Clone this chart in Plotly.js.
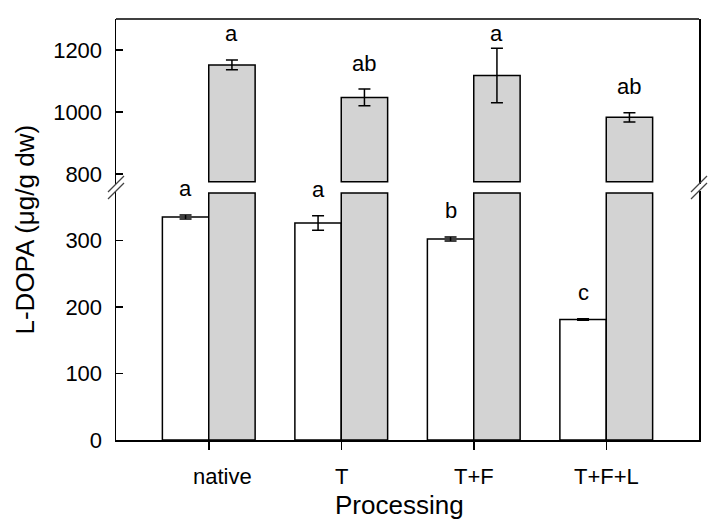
<!DOCTYPE html>
<html>
<head>
<meta charset="utf-8">
<script src="https://cdn.plot.ly/plotly-3.0.1.min.js"></script>
<style>html,body{margin:0;padding:0;background:#fff}#chart{width:723px;height:530px}</style>
</head>
<body>
<div id="chart"></div>
<script>
// ---- data ----
const categories = ['native', 'T', 'T+F', 'T+F+L'];
const whiteVals = [335, 326, 302, 181];
const whiteErr = [3, 11, 3, 1];
const grayVals = [1152, 1047, 1118, 983];
const grayErr = [16, 27, 88, 15];
const whiteLetters = ['a', 'a', 'b', 'c'];
const grayLetters = ['a', 'ab', 'a', 'ab'];
const yTicksLow = [0, 100, 200, 300];
const yTicksHigh = [800, 1000, 1200];

// ---- layout constants ----
const LOW_RANGE = [0, 374];
const HIGH_RANGE = [768, 1300];
const LOW_CUT = 371;   // where gray bars are cut on lower panel
const HIGH_CUT = 775;  // where gray bars resume on upper panel
const BAR_W = 0.35;
const LOW_DOMAIN = [0, 0.5914];
const HIGH_DOMAIN = [0.6081, 1];
const FONT = 'Liberation Sans, Arial, Helvetica, sans-serif';
const whiteLift = [26, 26, 26, 26];
const grayLift = [26, 26, 15, 26];
const labelShift = [0.1, 0, 0, 0];

const idx = categories.map((_, i) => i);
const barLine = {color: '#000', width: 1.5};
const errStyle = {type: 'data', color: '#000', thickness: 1.5, width: 6, visible: true};

const traces = [
  {type: 'bar', x: idx, y: whiteVals, width: BAR_W, offset: -BAR_W,
   xaxis: 'x', yaxis: 'y', marker: {color: '#ffffff', line: barLine},
   error_y: Object.assign({array: whiteErr}, errStyle), hoverinfo: 'skip'},
  {type: 'bar', x: idx, y: grayVals.map(v => Math.min(v, LOW_CUT)), width: BAR_W, offset: 0,
   xaxis: 'x', yaxis: 'y', marker: {color: '#d3d3d3', line: barLine}, hoverinfo: 'skip'},
  {type: 'bar', x: idx, y: grayVals.map(v => v - HIGH_CUT), base: HIGH_CUT, width: BAR_W, offset: 0,
   xaxis: 'x', yaxis: 'y2', marker: {color: '#d3d3d3', line: barLine},
   error_y: Object.assign({array: grayErr}, errStyle), hoverinfo: 'skip'}
];

const annotations = [];
idx.forEach(i => {
  annotations.push({xref: 'x', yref: 'y', x: i - BAR_W / 2, y: whiteVals[i] + whiteErr[i],
    text: whiteLetters[i], showarrow: false, yanchor: 'middle', yshift: whiteLift[i],
    font: {family: FONT, size: 22, color: '#000'}});
  annotations.push({xref: 'x', yref: 'y2', x: i + BAR_W / 2, y: grayVals[i] + grayErr[i],
    text: grayLetters[i], showarrow: false, yanchor: 'middle', yshift: grayLift[i],
    font: {family: FONT, size: 22, color: '#000'}});
  annotations.push({xref: 'x', yref: 'paper', x: i + labelShift[i], y: 0,
    text: categories[i], showarrow: false, yanchor: 'middle', yshift: -36,
    font: {family: FONT, size: 22, color: '#000'}});
});
annotations.push({xref: 'paper', yref: 'paper', x: 0, y: 0.5, xshift: -92, textangle: -90,
  text: 'L-DOPA (μg/g dw)', showarrow: false, xanchor: 'center', yanchor: 'middle',
  font: {family: FONT, size: 26, color: '#000'}});
annotations.push({xref: 'paper', yref: 'paper', x: 0.487, y: 0, yshift: -65,
  text: 'Processing', showarrow: false, xanchor: 'center', yanchor: 'middle',
  font: {family: FONT, size: 26, color: '#000'}});

const slash = (xa, ya) => ({type: 'line', xref: 'paper', yref: 'paper',
  xsizemode: 'pixel', ysizemode: 'pixel', xanchor: xa, yanchor: ya,
  x0: -8, x1: 8, y0: -8, y1: 8, line: {color: '#444', width: 1.2}});

const shapes = [
  {type: 'line', xref: 'paper', yref: 'paper', x0: 0, x1: 1, y0: 1, y1: 1, line: {color: '#000', width: 1.5}},
  slash(0, LOW_DOMAIN[1]), slash(0, HIGH_DOMAIN[0]),
  slash(1, LOW_DOMAIN[1]), slash(1, HIGH_DOMAIN[0])
];

const yCommon = {showline: true, linecolor: '#000', linewidth: 1.5, mirror: true,
  ticks: 'inside', ticklen: 7, tickwidth: 1.5, tickcolor: '#000',
  showgrid: false, zeroline: false, fixedrange: true, ticklabelstandoff: 8,
  tickfont: {family: FONT, size: 22, color: '#000'}, anchor: 'x'};

const layout = {
  width: 723, height: 530,
  margin: {l: 116, r: 24, t: 19, b: 90},
  paper_bgcolor: '#fff', plot_bgcolor: '#fff',
  showlegend: false, barmode: 'overlay',
  font: {family: FONT, size: 22, color: '#000'},
  xaxis: {range: [-0.7, 3.7], tickvals: idx, showticklabels: false,
    showline: true, linecolor: '#000', linewidth: 1.5,
    ticks: 'outside', ticklen: 8, tickwidth: 1.5, tickcolor: '#000',
    showgrid: false, zeroline: false, fixedrange: true, anchor: 'y'},
  yaxis: Object.assign({domain: LOW_DOMAIN, range: LOW_RANGE, tickvals: yTicksLow}, yCommon),
  yaxis2: Object.assign({domain: HIGH_DOMAIN, range: HIGH_RANGE, tickvals: yTicksHigh}, yCommon),
  annotations: annotations,
  shapes: shapes
};

Plotly.newPlot('chart', traces, layout, {staticPlot: true, displayModeBar: false});
</script>
</body>
</html>
